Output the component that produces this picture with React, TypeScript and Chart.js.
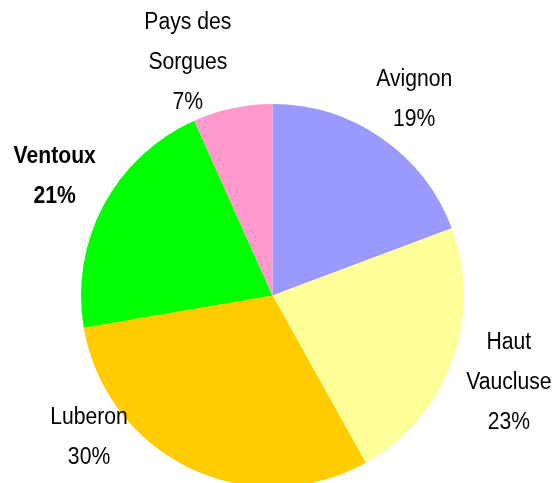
import React, { useEffect, useRef } from "react";
import { Chart, registerables } from "chart.js";

Chart.register(...registerables);

const categories = ["Avignon", "Haut Vaucluse", "Luberon", "Ventoux", "Pays des Sorgues"];
const labelLines = [["Avignon"], ["Haut", "Vaucluse"], ["Luberon"], ["Ventoux"], ["Pays des", "Sorgues"]];
const shares = [19.3, 22.6, 30.4, 21.0, 6.7];
const colors = ["#9999FF", "#FFFF99", "#FFCC00", "#00FF00", "#FF99CC"];
const boldLabels = [false, false, false, true, false];
// label placement: angular shift (deg) from slice middle and extra distance beyond the rim
const labelAngleShift = [1.1, 0.1, 26.7, 0.5, -7.9];
const labelExtra = [50.5, 60.5, 40.5, 56.5, 56.5];

const labelPlugin = {
  id: "excelLabels",
  afterDatasetsDraw(chart: any) {
    const ctx = chart.ctx;
    const meta = chart.getDatasetMeta(0);
    const total = shares.reduce((a, b) => a + b, 0);
    meta.data.forEach((arc: any, i: number) => {
      const { x, y, startAngle, endAngle, outerRadius } = arc.getProps(
        ["x", "y", "startAngle", "endAngle", "outerRadius"],
        true
      );
      const mid = (startAngle + endAngle) / 2 + (labelAngleShift[i] * Math.PI) / 180;
      const d = outerRadius + labelExtra[i];
      const lx = x + Math.cos(mid) * d;
      const ly = y + Math.sin(mid) * d;
      const pct = Math.round((shares[i] / total) * 100);
      const lines = [...labelLines[i], pct + "%"];
      const lh = 40;
      ctx.save();
      ctx.fillStyle = "#000";
      ctx.textAlign = "center";
      ctx.textBaseline = "middle";
      ctx.font = (boldLabels[i] ? "bold " : "") + "23.5px 'Liberation Sans', Arial, sans-serif";
      lines.forEach((t, k) => {
        const ty = ly + (k - (lines.length - 1) / 2) * lh;
        ctx.save();
        ctx.translate(lx, ty);
        ctx.scale(0.9, 1);
        ctx.fillText(t, 0, 0);
        ctx.restore();
      });
      ctx.restore();
    });
  },
};

export default function App() {
  const ref = useRef<HTMLCanvasElement>(null);
  useEffect(() => {
    if (!ref.current) return;
    const chart = new Chart(ref.current, {
      type: "pie",
      data: {
        labels: categories,
        datasets: [
          {
            data: shares,
            backgroundColor: colors,
            borderWidth: 0,
          },
        ],
      },
      options: {
        responsive: false,
        animation: false,
        layout: { padding: { left: 81, right: 89, top: 104, bottom: 13 } },
        plugins: {
          legend: { display: false },
          tooltip: { enabled: false },
        },
      },
      plugins: [labelPlugin],
    });
    return () => chart.destroy();
  }, []);
  return (
    <div
      style={{
        position: "absolute",
        left: 0,
        top: 0,
        width: 553,
        height: 483,
        overflow: "hidden",
        background: "#fff",
      }}
    >
      <canvas ref={ref} width={553} height={500} style={{ display: "block" }} />
    </div>
  );
}
